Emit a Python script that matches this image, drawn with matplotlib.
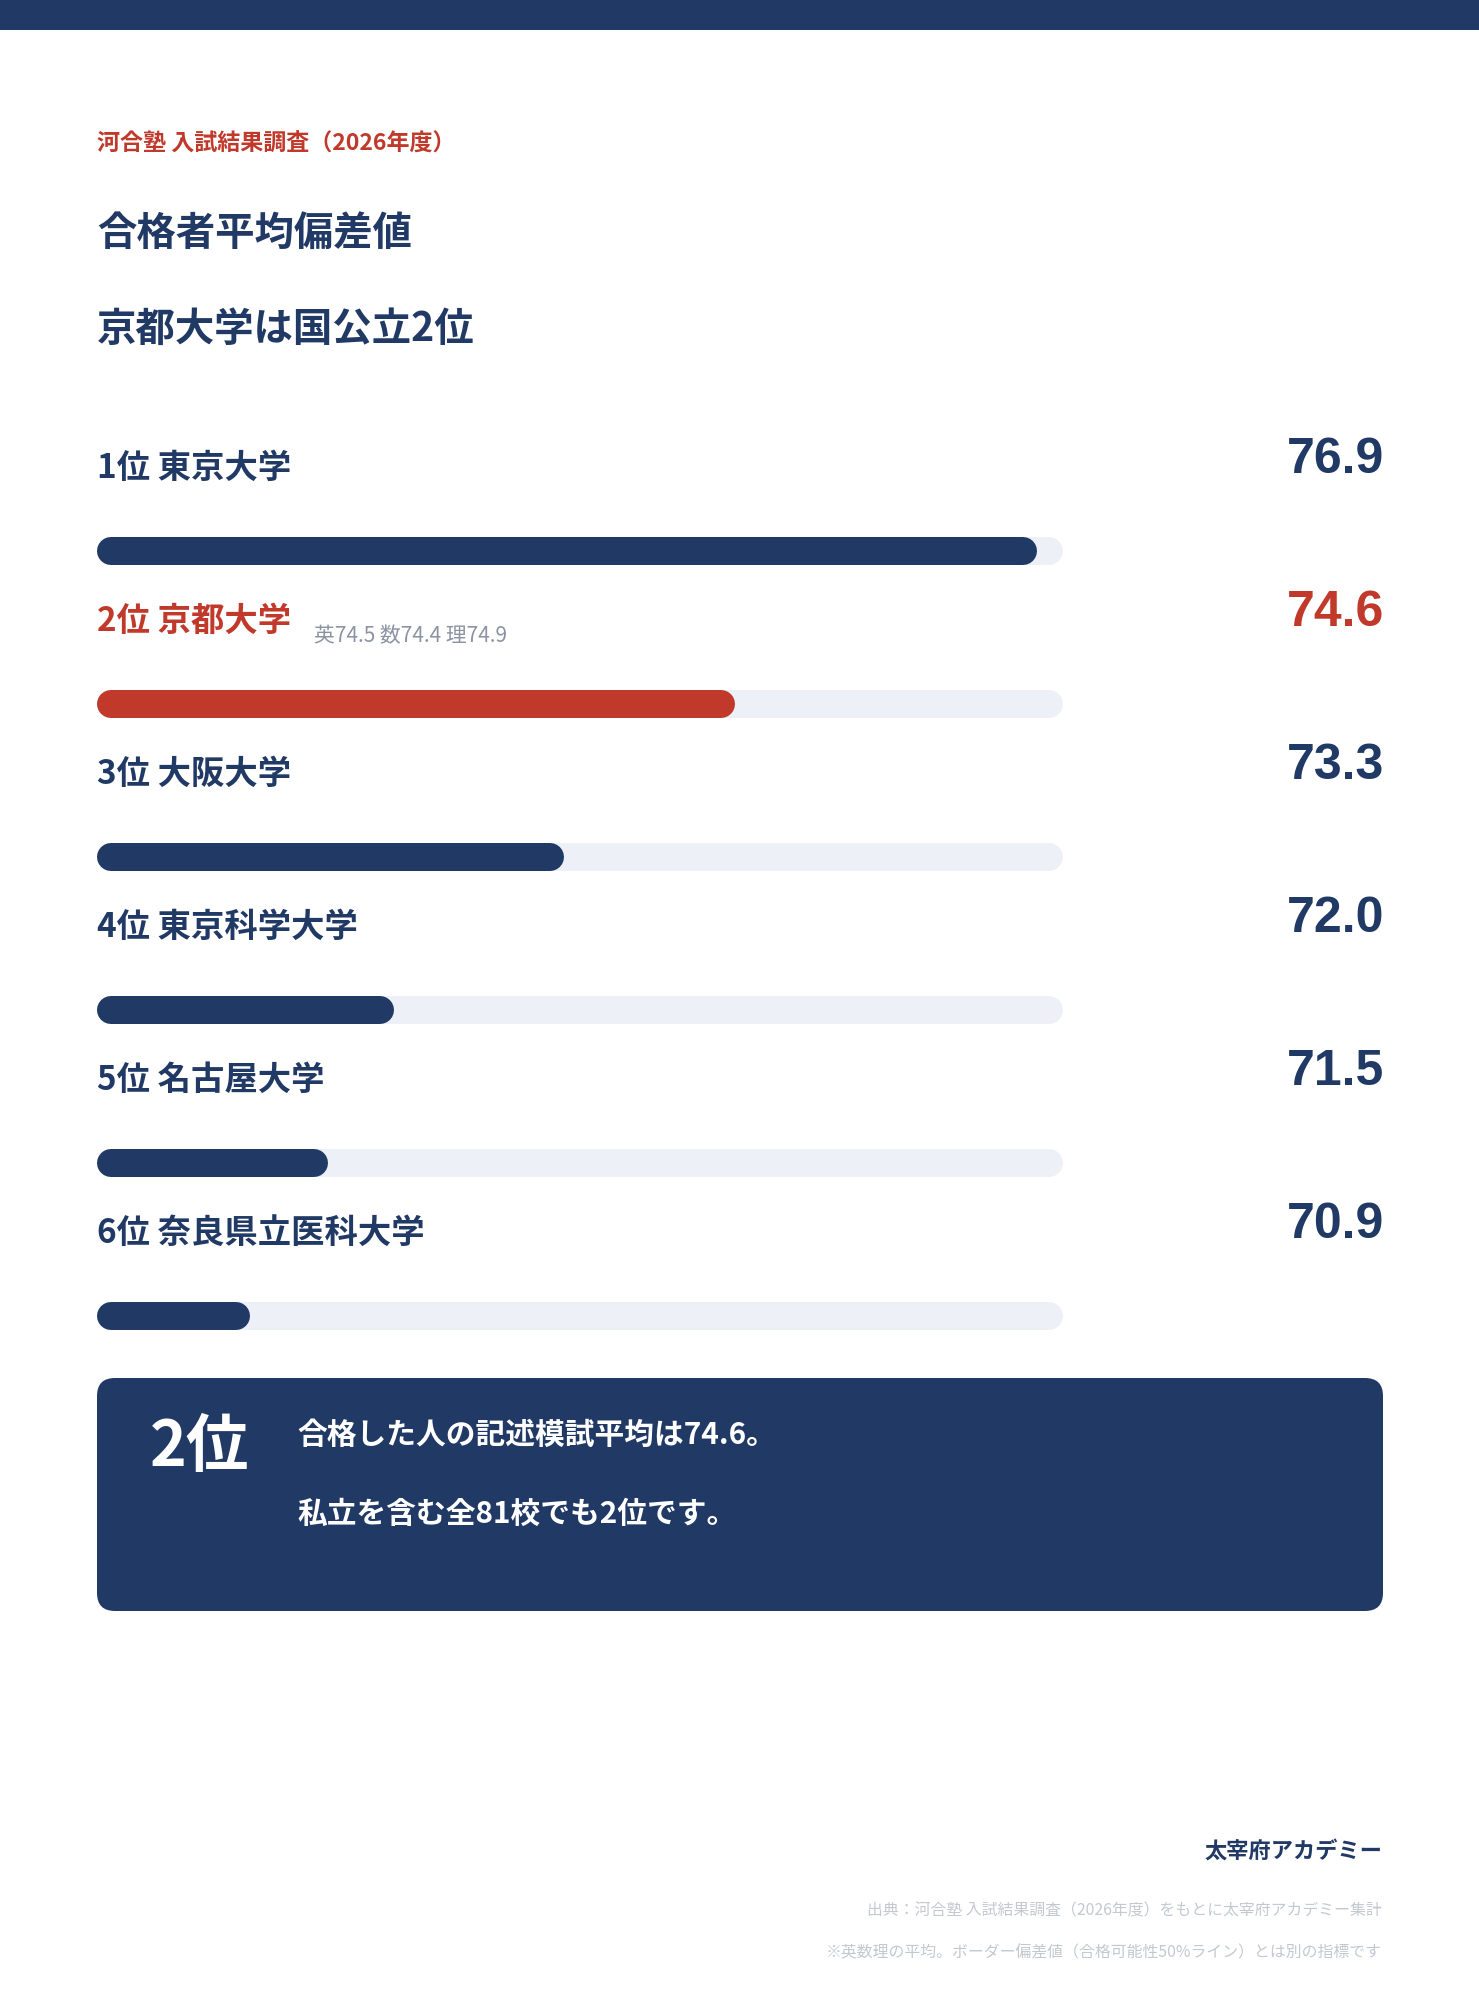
import matplotlib
matplotlib.use("Agg")
import matplotlib.pyplot as plt
from matplotlib.patches import FancyBboxPatch, Rectangle

plt.rcParams['font.family'] = ['Noto Sans CJK JP', 'DejaVu Sans']

# data
ranks = ['1位', '2位', '3位', '4位', '5位', '6位']
schools = ['東京大学', '京都大学', '大阪大学', '東京科学大学', '名古屋大学', '奈良県立医科大学']
scores = [76.9, 74.6, 73.3, 72.0, 71.5, 70.9]
kyoto_sub = '英74.5 数74.4 理74.9'
highlight = 1

NAVY = '#213965'
RED = '#c0392b'
TRACK = '#edf0f7'
GRAY = '#8b93a2'
LIGHT = '#c3c8d1'

W, H = 1479, 2000
fig = plt.figure(figsize=(W / 100, H / 100), dpi=100)
fig.patch.set_facecolor('white')

# background axes in pixel coords
bg = fig.add_axes([0, 0, 1, 1])
bg.set_xlim(0, W)
bg.set_ylim(H, 0)
bg.axis('off')

bg.add_patch(Rectangle((0, 0), W, 30, color=NAVY, lw=0))

bg.text(97, 144, '河合塾 入試結果調査（2026年度）', color=RED, fontsize=16.6,
        fontweight='bold', va='center', ha='left')
bg.text(97, 233, '合格者平均偏差値', color=NAVY, fontsize=28.4,
        fontweight='bold', va='center', ha='left')
bg.text(97, 329, '京都大学は国公立2位', color=NAVY, fontsize=28.4,
        fontweight='bold', va='center', ha='left')

row0, step = 467, 153
for i, (r, s, v) in enumerate(zip(ranks, schools, scores)):
    c = RED if i == highlight else NAVY
    y = row0 + i * step
    bg.text(97, y + 1, f'{r} {s}', color=c, fontsize=24, fontweight='bold',
            va='center', ha='left')
    bg.text(1384, y - 7, f'{v:.1f}', color=c, fontsize=36, fontweight='bold',
            family=['Liberation Sans', 'DejaVu Sans'], va='center', ha='right')
    if i == highlight:
        bg.text(314, y + 16, kyoto_sub, color=GRAY, fontsize=15,
                va='center', ha='left')

# bars axes: rows map to pixel y of 551 + i*153
lo, hi = 69.95, 77.1
top_px = 551 - step / 2
bot_px = 551 + 5 * step + step / 2
ax = fig.add_axes([111 / W, 1 - bot_px / H, (1049 - 111) / W, (bot_px - top_px) / H])
ax.set_xlim(lo, hi)
ax.set_ylim(5.5, -0.5)
ax.axis('off')
lw = 28 * 72 / 100
for i, v in enumerate(scores):
    ax.plot([lo, hi], [i, i], color=TRACK, linewidth=lw,
            solid_capstyle='round', clip_on=False)
    ax.plot([lo, v], [i, i], color=RED if i == highlight else NAVY,
            linewidth=lw, solid_capstyle='round', clip_on=False)

# callout box
bg.add_patch(FancyBboxPatch((97, 1378), 1383 - 97, 1611 - 1378,
                            boxstyle='round,pad=0,rounding_size=18',
                            fc=NAVY, ec='none'))
bg.text(150, 1448, '2位', color='white', fontsize=45, fontweight='bold',
        va='center', ha='left')
bg.text(297, 1435, '合格した人の記述模試平均は74.6。', color='white', fontsize=21.4,
        fontweight='bold', va='center', ha='left')
bg.text(297, 1514, '私立を含む全81校でも2位です。', color='white', fontsize=21.4,
        fontweight='bold', va='center', ha='left')

# footer
bg.text(1382, 1851, '太宰府アカデミー', color=NAVY, fontsize=16,
        fontweight='bold', va='center', ha='right')
bg.text(1382, 1911, '出典：河合塾 入試結果調査（2026年度）をもとに太宰府アカデミー集計',
        color=LIGHT, fontsize=11.4, va='center', ha='right')
bg.text(1382, 1953, '※英数理の平均。ボーダー偏差値（合格可能性50%ライン）とは別の指標です',
        color=LIGHT, fontsize=11.4, va='center', ha='right')

fig.savefig('out.png', dpi=100)
